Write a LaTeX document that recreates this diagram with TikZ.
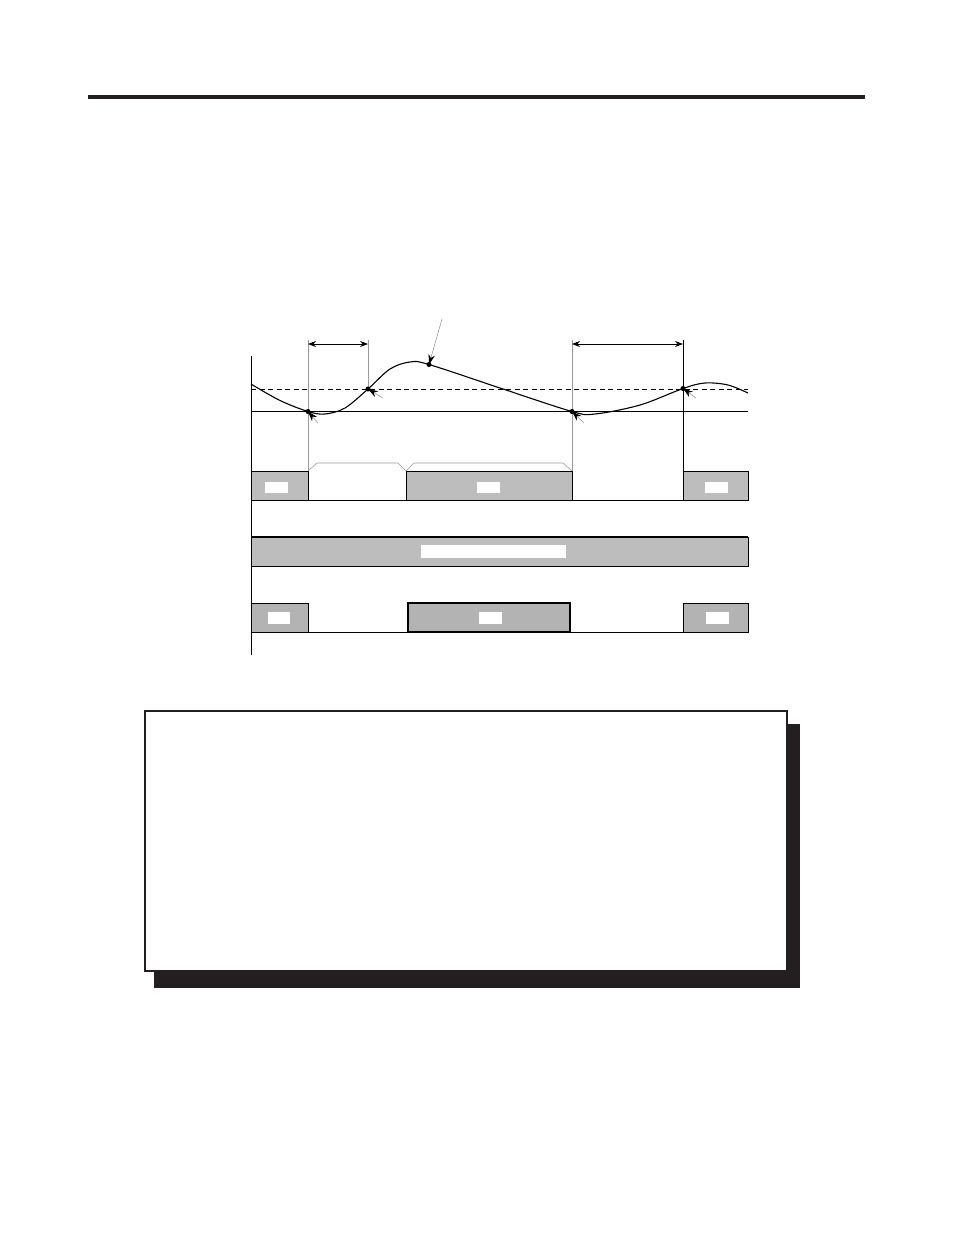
\documentclass[tikz,border=0pt]{standalone}
\usetikzlibrary{arrows.meta}
\definecolor{ink}{HTML}{231F20}
\definecolor{barA}{HTML}{BDBDBD}
\definecolor{barC}{HTML}{B3B3B3}
\definecolor{guide}{HTML}{9A9A9A}
\tikzset{
  px/.style={x=1pt,y=-1pt},
  guideline/.style={draw=guide,line width=0.6pt},
  blockA/.style={fill=barA,draw=black,line width=0.9pt},
  blockC/.style={fill=barC,draw=black,line width=0.9pt},
  dimarrow/.style={black,line width=0.8pt,{Stealth[length=8pt,width=6pt]}-{Stealth[length=8pt,width=6pt]}},
  ptarrow/.style={draw=guide,line width=0.6pt,-{Stealth[length=10pt,width=6.5pt,black]}},
  dotmark/.style={circle,fill=black,inner sep=0pt,minimum size=5pt},
}
\begin{document}
\begin{tikzpicture}[px]
\useasboundingbox (0,0) rectangle (954,1235);
% top rule
\fill[ink] (88,95) rectangle (865,99);

% axis
\draw[black,line width=0.9pt] (251,356) -- (251,655);
% reference levels
\draw[black,line width=0.9pt] (251,411) -- (748,411);
\draw[black,line width=0.9pt,dash pattern=on 5pt off 3.5pt] (251,389) -- (748,389);

% guide lines
\draw[guideline] (308,340) -- (308,471);
\draw[guideline] (368,340) -- (368,389);
\draw[guideline] (572,340) -- (572,471);
\draw[black,line width=0.7pt] (683,340) -- (683,471);

% dimension arrows
\coordinate (d1a) at (308,344); \coordinate (d1b) at (368,344);
\coordinate (d2a) at (572,344); \coordinate (d2b) at (683,344);
\draw[dimarrow] (d1a) -- (d1b);
\draw[dimarrow] (d2a) -- (d2b);

% curve
\draw[black,line width=1.1pt] plot[smooth,tension=0.55] coordinates {
 (251,384) (280,400.5) (308,411.5) (325,414) (345,408) (368,389) (390,369) (410,362) (429,364.5)
 (500,388) (572,411.5) (595,414) (640,405) (683,388.5) (705,383) (728,385) (748,393)};

% points
\node[dotmark] (p1) at (308,411.5) {};
\node[dotmark] (p2) at (368,389) {};
\node[dotmark] (p3) at (429,364.5) {};
\node[dotmark] (p4) at (572,411.5) {};
\node[dotmark] (p5) at (683,388.5) {};

% pointer arrows
\coordinate (a1) at (318,423);
\coordinate (a2) at (383,398);
\coordinate (a3) at (442,319);
\coordinate (a4) at (584,423);
\coordinate (a5) at (696,398);
\draw[ptarrow] (a1) -- (p1.center);
\draw[ptarrow] (a2) -- (p2.center);
\draw[ptarrow] (a3) -- (p3.center);
\draw[ptarrow] (a4) -- (p4.center);
\draw[ptarrow] (a5) -- (p5.center);

% row 1
\draw[black,line width=0.9pt] (251,500) -- (748,500);
\draw[blockA] (251,471) rectangle (308,500);
\draw[blockA] (406,471) rectangle (572,500);
\draw[blockA] (683,471) rectangle (748,500);
\fill[white] (265,482) rectangle (288,493);
\fill[white] (477,482) rectangle (500,493);
\fill[white] (705,482) rectangle (728,493);
\draw[guideline] (308,471) -- (317,463) -- (398,463) -- (406,471);
\draw[guideline] (406,471) -- (414,463) -- (563,463) -- (572,471);

% row 2
\draw[blockA] (251,537) rectangle (748,566);
\draw[black,line width=1.8pt] (251,537) -- (748,537);
\fill[white] (421,545) rectangle (566,558);

% row 3
\draw[black,line width=0.9pt] (251,632) -- (748,632);
\draw[blockC] (251,603) rectangle (308,632);
\draw[blockC,line width=1.6pt] (408,603) rectangle (570,632);
\draw[blockC] (683,603) rectangle (748,632);
\fill[white] (268,612) rectangle (290,624);
\fill[white] (479,612) rectangle (502,624);
\fill[white] (706,612) rectangle (729,624);

% framed box with shadow
\fill[ink] (154,724) rectangle (800,988);
\draw[ink,fill=white,line width=2pt] (145,711) rectangle (787,971);
\end{tikzpicture}
\end{document}
